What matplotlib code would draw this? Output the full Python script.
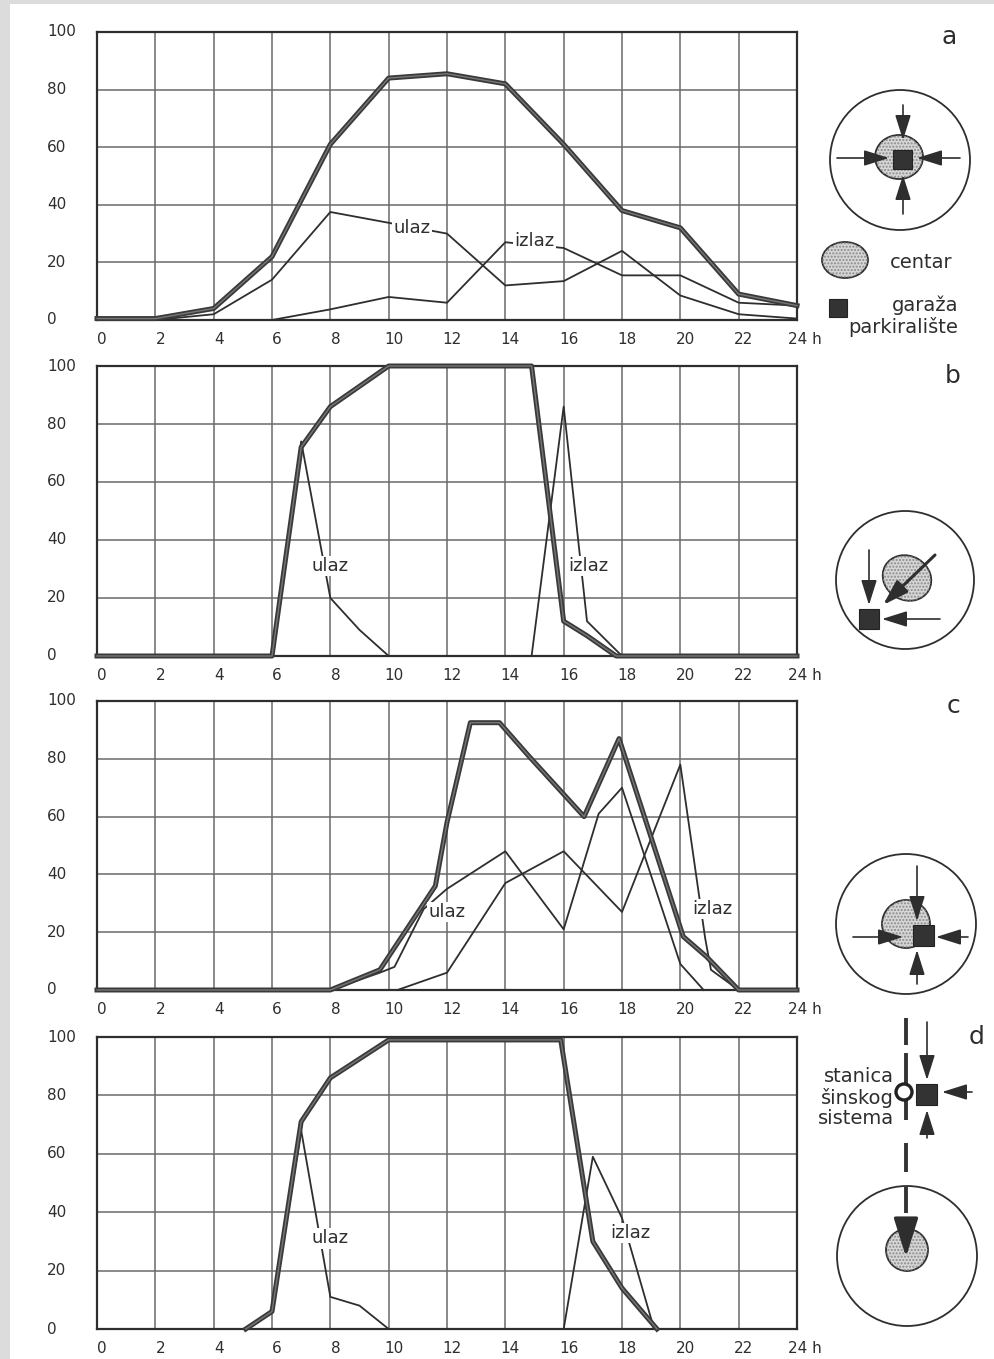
import numpy as np
import matplotlib.pyplot as plt
import matplotlib.transforms as mtransforms
from matplotlib.patches import Circle, Ellipse, Rectangle

plt.rcParams['font.family'] = ['DejaVu Sans']

# hours on the x axis and percentages on the y axis
hour_ticks = list(range(0, 25, 2))
pct_ticks = list(range(0, 101, 20))

# a - garage in the centre
a_total_h = [0, 2, 4, 6, 8, 10, 12, 14, 16, 18, 20, 22, 24]
a_total = [0.5, 0.5, 4, 22, 61, 84, 85.5, 82, 61, 38, 32, 9, 5]
a_ulaz_h = [0, 2, 4, 6, 8, 12, 14, 16, 18, 20, 22, 24]
a_ulaz = [0, 0, 2, 14, 37.5, 30, 12, 13.5, 24, 8.5, 2, 0.5]
a_izlaz_h = [0, 6, 8, 10, 12, 14, 16, 18, 20, 22, 24]
a_izlaz = [0, 0, 3.7, 8, 6, 27, 25, 15.5, 15.5, 6, 5]
a_labels = [(10.8, 32, 'ulaz'), (15.0, 27.5, 'izlaz')]

# b - garage at the edge of the centre
b_total_h = [0, 6, 7, 8, 10, 14.9, 15.5, 16, 16.8, 17.8, 24]
b_total = [0, 0, 72, 86, 100, 100, 52, 12, 7, 0, 0]
b_ulaz_h = [6, 7, 8, 9, 10]
b_ulaz = [0, 74, 20, 9, 0]
b_izlaz_h = [14.9, 16, 16.8, 18]
b_izlaz = [0, 86, 12, 0]
b_labels = [(8.0, 31, 'ulaz'), (16.85, 31, 'izlaz')]

# c - garage inside the centre
c_total_h = [0, 8, 9.7, 11.6, 12, 12.8, 13.8, 14.8, 16.7, 17.9, 20.1, 20.9, 22, 24]
c_total = [0, 0, 7, 36, 58, 92.5, 92.5, 81, 60, 87, 18.5, 11.5, 0, 0]
c_ulaz_h = [8, 9.7, 10.2, 11.2, 12, 14, 16, 17.2, 18, 20, 20.8]
c_ulaz = [0, 6, 8, 28, 35, 48, 21, 61, 70, 9, 0]
c_izlaz_h = [10.3, 12, 14, 16, 18, 20, 20.85, 21.05, 22]
c_izlaz = [0, 6, 37, 48, 27, 78, 18, 7, 0]
c_labels = [(12.0, 27, 'ulaz'), (21.1, 28, 'izlaz')]

# d - park and ride at a rail station
d_total_h = [5.1, 6, 7, 8, 10, 15.9, 17, 18, 19.2]
d_total = [0, 6, 71, 86, 99, 99, 30, 14, 0]
d_ulaz_h = [5.1, 6, 7, 8, 9, 10]
d_ulaz = [0, 6, 68, 11, 8, 0]
d_izlaz_h = [16, 17, 18, 19.1]
d_izlaz = [0, 59, 38, 0]
d_labels = [(8.0, 31, 'ulaz'), (18.3, 33, 'izlaz')]

panels = [
    (a_total_h, a_total, a_ulaz_h, a_ulaz, a_izlaz_h, a_izlaz, a_labels),
    (b_total_h, b_total, b_ulaz_h, b_ulaz, b_izlaz_h, b_izlaz, b_labels),
    (c_total_h, c_total, c_ulaz_h, c_ulaz, c_izlaz_h, c_izlaz, c_labels),
    (d_total_h, d_total, d_ulaz_h, d_ulaz, d_izlaz_h, d_izlaz, d_labels),
]

W, H = 994, 1359
fig = plt.figure(figsize=(W / 100, H / 100), dpi=100)
fig.patch.set_facecolor('#dcdcdc')
fig.patches.append(Rectangle((10 / W, 0), 1, 1 - 4 / H, transform=fig.transFigure,
                             facecolor='white', edgecolor='none', zorder=-10))

ink = '#2e2e2e'
left_px, right_px = 97, 797
rows_px = [(32, 320), (366, 656), (701, 990), (1037, 1329)]
shift = mtransforms.ScaledTranslation(0.05, 0, fig.dpi_scale_trans)

for (top, bot), (th, tv, uh, uv, ih, iv, labels) in zip(rows_px, panels):
    ax = fig.add_axes([left_px / W, 1 - bot / H, (right_px - left_px) / W, (bot - top) / H])
    ax.set_xlim(0, 24)
    ax.set_ylim(0, 100)
    ax.set_xticks(hour_ticks)
    ax.set_yticks(pct_ticks)
    ax.set_xticklabels([])
    ax.set_yticklabels([])
    ax.tick_params(length=0)
    ax.grid(True, color='#6a6a6a', lw=1.1)
    for s in ax.spines.values():
        s.set_color(ink)
        s.set_linewidth(1.6)

    ax.plot(uh, uv, color=ink, lw=1.3, clip_on=False, zorder=3)
    ax.plot(ih, iv, color=ink, lw=1.3, clip_on=False, zorder=3)
    ax.plot(th, tv, color='#3a3a3a', lw=3.6, clip_on=False, zorder=4)
    ax.plot(th, tv, color='#777777', lw=1.0, clip_on=False, zorder=4)

    for x, y, s in labels:
        ax.text(x, y, s, ha='center', va='center', fontsize=13, color=ink, zorder=6,
                bbox=dict(boxstyle='square,pad=0.06', fc='white', ec='none'))

    xt = ax.get_xaxis_transform() + shift
    for h in hour_ticks[:-1]:
        ax.text(h, -0.04, str(h), transform=xt, ha='center', va='top',
                fontsize=11, color=ink)
    ax.text(24, -0.04, '24 h', transform=ax.get_xaxis_transform() +
            mtransforms.ScaledTranslation(-0.09, 0, fig.dpi_scale_trans),
            ha='left', va='top', fontsize=11, color=ink)
    for p in pct_ticks:
        ax.text(-50 / 700, p, str(p), transform=ax.get_yaxis_transform(),
                ha='left', va='center', fontsize=11, color=ink)

# schematic drawings on the right, in pixel coordinates
ov = fig.add_axes([0, 0, 1, 1])
ov.set_xlim(0, W)
ov.set_ylim(H, 0)
ov.axis('off')


def centre(x, y, w, h=None, angle=0):
    h = w if h is None else h
    ov.add_patch(Ellipse((x, y), w, h, angle=angle, facecolor='#d6d6d6',
                         edgecolor=ink, lw=1.3, zorder=2))
    ov.add_patch(Ellipse((x, y), w, h, angle=angle, facecolor='none',
                         edgecolor='#8a8a8a', lw=0, hatch='.....', zorder=2))


def garage(x, y, s=20):
    ov.add_patch(Rectangle((x - s / 2, y - s / 2), s, s, facecolor='#333333',
                           edgecolor='#222222', lw=0.8, zorder=3))


def ring(x, y, r=70):
    ov.add_patch(Circle((x, y), r, facecolor='none', edgecolor=ink, lw=1.3, zorder=1))


def arrow(x0, y0, x1, y1, lw=1.2, ms=22):
    ov.annotate('', xy=(x1, y1), xytext=(x0, y0), zorder=4,
                arrowprops=dict(arrowstyle='-|>,head_length=0.7,head_width=0.22',
                                color=ink, lw=lw, shrinkA=0, shrinkB=0,
                                mutation_scale=ms))


def letter(x, y, s):
    ov.text(x, y, s, ha='center', va='center', fontsize=18, color=ink)


# a
letter(949, 37, 'a')
ring(900, 160)
centre(899, 157, 48, 44)
garage(902, 159, 19)
arrow(903, 105, 903, 140)
arrow(903, 214, 903, 175)
arrow(837, 158, 889, 158)
arrow(960, 158, 917, 158)
centre(845, 260, 46, 36)
ov.text(921, 262, 'centar', ha='center', va='center', fontsize=14, color=ink)
garage(838, 308, 18)
ov.text(958, 305, 'garaža', ha='right', va='center', fontsize=14, color=ink)
ov.text(958, 327, 'parkiralište', ha='right', va='center', fontsize=14, color=ink)

# b
letter(953, 376, 'b')
ring(905, 580, 69)
centre(907, 578, 50, 44, angle=30)
garage(869, 619, 20)
arrow(869, 550, 869, 605)
arrow(940, 619, 882, 619)
arrow(935, 555, 883, 605, lw=2.2)

# c
letter(954, 706, 'c')
ring(906, 924, 70)
centre(906, 924, 48)
garage(923, 935, 21)
arrow(917, 866, 917, 921)
arrow(853, 937, 903, 937)
arrow(968, 937, 936, 937)
arrow(917, 984, 917, 950)

# d
letter(977, 1037, 'd')
for y0, y1 in [(1018, 1045), (1053, 1120), (1143, 1172), (1187, 1213), (1225, 1236)]:
    ov.plot([906, 906], [y0, y1], color='#333333', lw=2.8, solid_capstyle='butt', zorder=2)
ov.add_patch(Circle((904, 1092), 8, facecolor='white', edgecolor='#222222', lw=2.4, zorder=3))
garage(926, 1094, 21)
arrow(927, 1022, 927, 1080)
arrow(972, 1092, 942, 1092)
arrow(927, 1138, 927, 1110)
for i, s in enumerate(['stanica', 'šinskog', 'sistema']):
    ov.text(894, 1077 + 21 * i, s, ha='right', va='center', fontsize=14, color=ink)
ring(907, 1256, 70)
centre(907, 1250, 42)
arrow(906, 1224, 906, 1257, lw=2.5, ms=34)

fig.savefig('out.png', dpi=100)
